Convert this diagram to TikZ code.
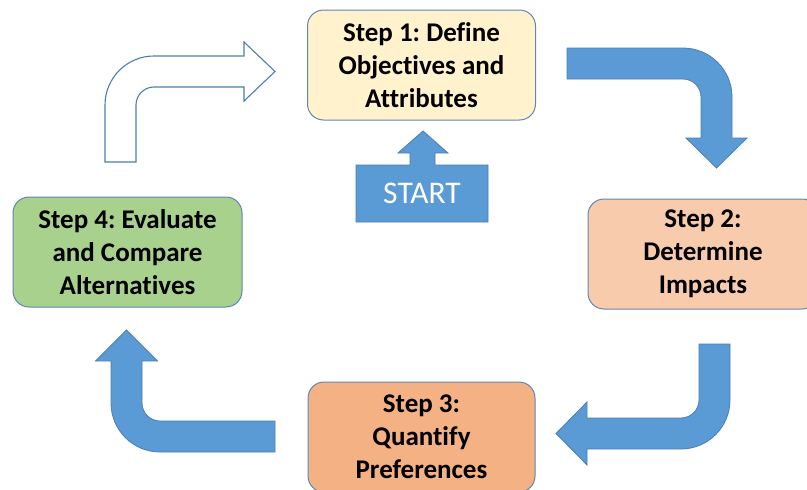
\documentclass[tikz,border=0pt]{standalone}
\usepackage{fontspec}
\setmainfont{Carlito}[Ligatures=NoCommon]
\frenchspacing
\definecolor{arrowfill}{HTML}{5B9BD5}
\definecolor{arrowline}{HTML}{4A7EB5}
\definecolor{boxline}{HTML}{5E86B4}
\definecolor{fillone}{HTML}{FFF2CC}
\definecolor{filltwo}{HTML}{F8CBAD}
\definecolor{fillthree}{HTML}{F4B183}
\definecolor{fillfour}{HTML}{A9D18E}
\begin{document}
\begin{tikzpicture}[x=1pt,y=-1pt,
  stepbox/.style={draw=boxline, line width=1pt, rounded corners=16pt,
    align=center, inner sep=0pt,
    font=\fontsize{27}{33}\selectfont\bfseries},
  blockarrow/.style={fill=arrowfill, draw=arrowline, line width=0.8pt, line join=miter},
  hollowarrow/.style={fill=white, draw=arrowline, line width=1.1pt, line join=miter}]
\useasboundingbox (0,0) rectangle (807,490);
\clip (0,0) rectangle (807,490);

% the four step boxes
\node[stepbox, fill=fillone, minimum width=228pt, minimum height=110pt]
  (s1) at (421.5,65) {Step 1: Define\\Objectives and\\Attributes};
\node[stepbox, fill=filltwo, minimum width=230pt, minimum height=110pt]
  (s2) at (703,254) {Step 2:\\Determine\\Impacts};
\node[stepbox, fill=fillthree, minimum width=227pt, minimum height=110pt]
  (s3) at (421.5,437) {Step 3:\\Quantify\\Preferences};
\node[stepbox, fill=fillfour, minimum width=229pt, minimum height=110pt]
  (s4) at (127.5,252) {Step 4: Evaluate\\and Compare\\Alternatives};

% start block with its upward arrow
\draw[blockarrow] (356,165) -- (410,165) -- (410,153) -- (398,153) -- (423,131)
  -- (448,153) -- (435,153) -- (435,165) -- (488,165) -- (488,222) -- (356,222) -- cycle;
\node[text=white, font=\fontsize{31.5}{36}\selectfont] (start) at (422,193) {START};

% bent arrow from step 4 up and over to step 1 (outlined)
\draw[hollowarrow] (105,162) -- (105,105) .. controls (105,77.94) and (126.94,56) .. (154,56)
  -- (244,56) -- (244,42) -- (275,71.5) -- (244,101) -- (244,87) -- (154,87)
  .. controls (144.06,87) and (136,95.06) .. (136,105) -- (136,162) -- cycle;

% bent arrow from step 1 round to step 2
\draw[blockarrow] (567,48) -- (683,48) .. controls (710.06,48) and (732,69.94) .. (732,97)
  -- (732,138) -- (747,138) -- (716.5,168) -- (686,138) -- (701,138) -- (701,97)
  .. controls (701,87.06) and (692.94,79) .. (683,79) -- (567,79) -- cycle;

% bent arrow from step 2 down to step 3
\draw[blockarrow] (699,344) -- (730,344) -- (730,400) .. controls (730,427.06) and (708.06,449) .. (681,449)
  -- (587,449) -- (587,465) -- (556,433.5) -- (587,402) -- (587,418) -- (681,418)
  .. controls (690.94,418) and (699,409.94) .. (699,400) -- cycle;

% bent arrow from step 3 up to step 4
\draw[blockarrow] (275,421) -- (160,421) .. controls (150.06,421) and (142,412.94) .. (142,403)
  -- (142,361) -- (157.5,361) -- (126.5,330) -- (95.5,361) -- (111,361) -- (111,403)
  .. controls (111,430.06) and (132.94,452) .. (160,452) -- (275,452) -- cycle;
\end{tikzpicture}
\end{document}
